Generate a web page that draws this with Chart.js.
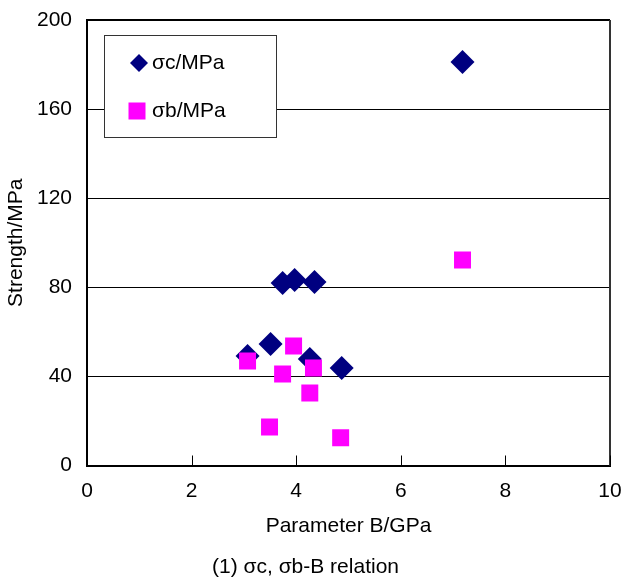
<!DOCTYPE html>
<html>
<head>
<meta charset="utf-8">
<script src="https://cdn.jsdelivr.net/npm/chart.js@4"></script>
<style>
  body { margin: 0; background: #fff; }
  canvas { display: block; }
</style>
</head>
<body>
<canvas id="myChart" width="622" height="581"></canvas>
<script>
// sigma c (compressive) vs parameter B
const sigmaCB = [3.07, 3.51, 3.74, 3.97, 4.35, 4.26, 4.87, 7.18];
const sigmaC = [49.2, 54.5, 81.9, 83.3, 82.4, 47.8, 43.8, 181.1];
// sigma b (bending) vs parameter B
const sigmaBB = [3.07, 3.95, 3.74, 4.33, 4.26, 3.49, 4.85, 7.18];
const sigmaB = [46.9, 53.6, 41.1, 43.8, 32.5, 17.3, 12.5, 92.3];
const xTicks = [0, 2, 4, 6, 8, 10];
const yTicks = [0, 40, 80, 120, 160, 200];

const seriesNames = ['\u03c3c/MPa', '\u03c3b/MPa'];
const seriesColors = ['#000080', '#ff00ff'];
const fontFamily = '"Liberation Sans", Arial, sans-serif';
const fontSize = 21;

function toPoints(xs, ys) {
    return xs.map((x, i) => ({x: x, y: ys[i]}));
}

// box around plot + short inward ticks on the x axis
const frame = {
    id: 'frame',
    beforeDatasetsDraw(chart) {
        const {ctx, chartArea} = chart;
        const xs = chart.scales.x;
        ctx.save();
        ctx.strokeStyle = '#000';
        ctx.lineWidth = 2;
        ctx.beginPath();
        ctx.moveTo(chartArea.left, chartArea.top);
        ctx.lineTo(chartArea.right, chartArea.top);
        ctx.stroke();
        ctx.strokeStyle = '#333';
        ctx.beginPath();
        ctx.moveTo(chartArea.right, chartArea.top);
        ctx.lineTo(chartArea.right, chartArea.bottom);
        ctx.stroke();
        ctx.strokeStyle = '#000';
        ctx.lineWidth = 1;
        xTicks.forEach(v => {
            const px = Math.round(xs.getPixelForValue(v)) + 0.5;
            ctx.beginPath();
            ctx.moveTo(px, chartArea.bottom);
            ctx.lineTo(px, chartArea.bottom - 10);
            ctx.stroke();
        });
        ctx.restore();
    }
};

// legend drawn as a white box inside the plot, top left
const boxLegend = {
    id: 'boxLegend',
    afterDatasetsDraw(chart) {
        const {ctx, chartArea} = chart;
        const bx = chartArea.left + 17, by = chartArea.top + 15;
        const bw = 172, bh = 102;
        ctx.save();
        ctx.fillStyle = '#fff';
        ctx.fillRect(bx, by, bw, bh);
        ctx.strokeStyle = '#333';
        ctx.lineWidth = 1;
        ctx.strokeRect(bx + 0.5, by + 0.5, bw, bh);

        ctx.font = fontSize + 'px ' + fontFamily;
        ctx.textBaseline = 'middle';

        // diamond
        let cx = bx + 35, cy = by + 28;
        ctx.fillStyle = seriesColors[0];
        ctx.beginPath();
        ctx.moveTo(cx - 9, cy);
        ctx.lineTo(cx, cy - 9);
        ctx.lineTo(cx + 9, cy);
        ctx.lineTo(cx, cy + 9);
        ctx.closePath();
        ctx.fill();
        ctx.fillStyle = '#000';
        ctx.fillText(seriesNames[0], bx + 48, cy);

        // square
        cx = bx + 33; cy = by + 76;
        ctx.fillStyle = seriesColors[1];
        ctx.fillRect(cx - 8.5, cy - 8.5, 17, 17);
        ctx.fillStyle = '#000';
        ctx.fillText(seriesNames[1], bx + 48, cy);
        ctx.restore();
    }
};

const data = {
    datasets: [{
        label: seriesNames[0],
        data: toPoints(sigmaCB, sigmaC),
        order: 1,
        pointStyle: 'rectRot',
        pointRadius: 12,
        pointHoverRadius: 12,
        pointBorderWidth: 0,
        backgroundColor: seriesColors[0],
        borderColor: seriesColors[0]
    }, {
        label: seriesNames[1],
        data: toPoints(sigmaBB, sigmaB),
        order: 0,
        pointStyle: 'rect',
        pointRadius: 12,
        pointHoverRadius: 12,
        pointBorderWidth: 0,
        backgroundColor: seriesColors[1],
        borderColor: seriesColors[1]
    }]
};

const config = {
    type: 'scatter',
    data: data,
    options: {
        responsive: false,
        animation: false,
        devicePixelRatio: 1,
        layout: {padding: {top: 20, right: 11, left: 0, bottom: 1}},
        plugins: {
            legend: {display: false},
            tooltip: {enabled: false},
            title: {
                display: true,
                position: 'bottom',
                text: '(1) \u03c3c, \u03c3b-B relation',
                color: '#000',
                font: {family: fontFamily, size: fontSize, weight: 'normal'},
                padding: {top: 15.8, bottom: 0}
            }
        },
        scales: {
            x: {
                type: 'linear',
                min: 0,
                max: 10,
                afterBuildTicks: axis => { axis.ticks = xTicks.map(v => ({value: v})); },
                afterFit: axis => { axis.paddingLeft = 0; axis.paddingRight = 0; axis.height = 73.5; },
                ticks: {color: '#000', font: {family: fontFamily, size: fontSize}, padding: 13},
                grid: {display: true, drawOnChartArea: false, drawTicks: false},
                border: {color: '#000', width: 2},
                title: {
                    display: true,
                    text: 'Parameter B/GPa',
                    color: '#000',
                    font: {family: fontFamily, size: fontSize},
                    padding: {top: 0, bottom: 0}
                }
            },
            y: {
                min: 0,
                max: 200,
                afterBuildTicks: axis => { axis.ticks = yTicks.map(v => ({value: v})); },
                afterFit: axis => { axis.paddingTop = 0; axis.paddingBottom = 0; axis.width = 87; },
                ticks: {color: '#000', font: {family: fontFamily, size: fontSize}, padding: 15},
                grid: {color: '#000', lineWidth: 1, drawTicks: false},
                border: {color: '#000', width: 2},
                title: {
                    display: true,
                    text: 'Strength/MPa',
                    color: '#000',
                    font: {family: fontFamily, size: fontSize},
                    padding: {top: 4, bottom: 0}
                }
            }
        }
    },
    plugins: [frame, boxLegend]
};

new Chart(document.getElementById('myChart'), config);
</script>
</body>
</html>
